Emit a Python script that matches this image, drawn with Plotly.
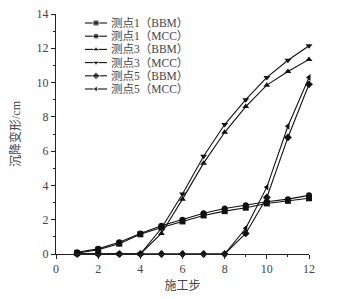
import plotly.graph_objects as go

steps = list(range(1, 13))
p1_bbm = [0.05, 0.25, 0.6, 1.15, 1.55, 1.9, 2.25, 2.5, 2.7, 2.95, 3.1, 3.25]
p1_mcc = [0.1, 0.3, 0.68, 1.2, 1.65, 2.0, 2.38, 2.65, 2.85, 3.05, 3.2, 3.42]
p3_bbm = [0, 0, 0, 0, 1.2, 3.2, 5.3, 7.1, 8.6, 9.85, 10.65, 11.35]
p3_mcc = [0, 0, 0, 0, 1.5, 3.5, 5.7, 7.55, 9.0, 10.3, 11.3, 12.15]
p5_bbm = [0, 0, 0, 0, 0, 0, 0, 0, 1.2, 3.3, 6.8, 9.9]
p5_mcc = [0, 0, 0, 0, 0, 0, 0, 0, 1.5, 3.9, 7.45, 10.3]

names = ["测点1（BBM）", "测点1（MCC）", "测点3（BBM）", "测点3（MCC）", "测点5（BBM）", "测点5（MCC）"]
series = [p1_bbm, p1_mcc, p3_bbm, p3_mcc, p5_bbm, p5_mcc]
symbols = ["square", "circle", "triangle-up", "triangle-down", "diamond", "triangle-left"]

font_fam = "Liberation Serif, Noto Sans CJK SC, serif"
ink = "#111111"
fig = go.Figure()
for n, s, sym in zip(names, series, symbols):
    fig.add_trace(go.Scatter(x=steps, y=s, name=n, mode="lines+markers",
                             line=dict(color=ink, width=1.1),
                             marker=dict(symbol=sym, size=6, color=ink),
                             showlegend=False))

# hand-drawn legend on an overlay axis measured in plot-area pixels
W, H = 253, 240
row0, gap = 9, 13.2
for i, (n, sym) in enumerate(zip(names, symbols)):
    yy = row0 + gap * i
    fig.add_trace(go.Scatter(x=[29, 40, 51], y=[yy, yy, yy], mode="lines+markers",
                             xaxis="x2", yaxis="y2", showlegend=False, hoverinfo="skip",
                             line=dict(color=ink, width=1.1),
                             marker=dict(symbol=sym, size=[0, 6, 0], color=ink)))
    fig.add_annotation(x=54, y=yy, xref="x2", yref="y2", text=n, showarrow=False,
                       xanchor="left", yanchor="middle", borderpad=0,
                       font=dict(size=11.5, color="#444444", family=font_fam))

fig.update_layout(
    width=330, height=291,
    margin=dict(l=48, r=29, t=6, b=45),
    plot_bgcolor="white", paper_bgcolor="white",
    font=dict(family=font_fam, size=12, color="#444444"),
    showlegend=False,
    xaxis=dict(range=[0, 12], tickvals=[0, 2, 4, 6, 8, 10, 12], automargin=False,
               showgrid=False, zeroline=False, showline=True, linecolor="#222222",
               linewidth=1, ticks="outside", ticklen=4, tickcolor="#222222",
               minor=dict(tickvals=[1, 3, 5, 7, 9, 11], ticks="outside", ticklen=2, tickcolor="#222222"),
               title=dict(text="施工步", font=dict(size=12), standoff=6)),
    yaxis=dict(range=[0, 14], tickvals=[0, 2, 4, 6, 8, 10, 12, 14], automargin=False,
               ticklabeloverflow="allow",
               showgrid=False, zeroline=False, showline=True, linecolor="#222222",
               linewidth=1, ticks="outside", ticklen=4, tickcolor="#222222",
               minor=dict(tickvals=[1, 3, 5, 7, 9, 11, 13], ticks="outside", ticklen=2, tickcolor="#222222"),
               title=dict(text="沉降变形/cm", font=dict(size=12), standoff=14)),
    xaxis2=dict(overlaying="x", range=[0, W], visible=False, domain=[0, 1]),
    yaxis2=dict(overlaying="y", range=[H, 0], visible=False, domain=[0, 1]),
)
fig.update_traces(cliponaxis=False)

fig.write_html("out.html")
